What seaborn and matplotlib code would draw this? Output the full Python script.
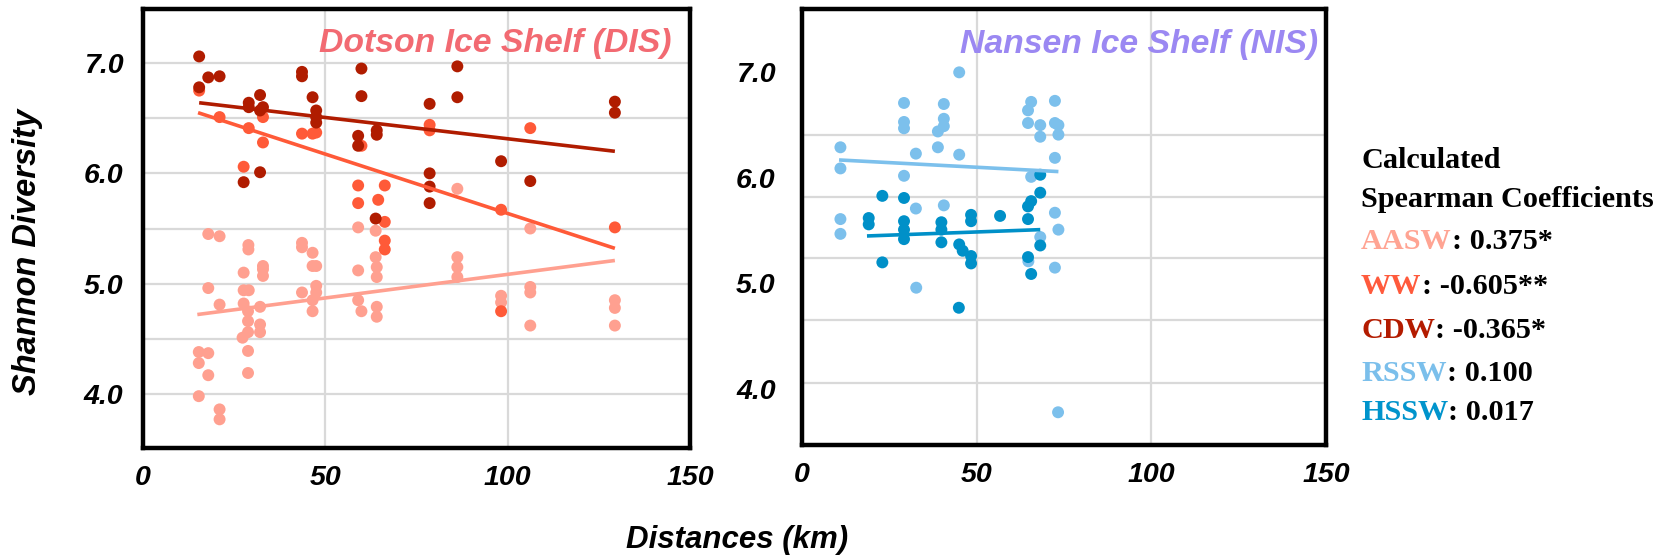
import numpy as np
import pandas as pd
import matplotlib
matplotlib.use("Agg")
import matplotlib.pyplot as plt
import seaborn as sns

# ---------------- data ----------------
# Dotson Ice Shelf (DIS)
aasw_x = [15.3, 17.9, 15.3, 17.9, 15.3, 21.0, 21.0, 17.9, 21.0, 17.9, 21.0,
          27.6, 27.6, 29.0, 27.6, 28.8, 28.8, 28.8, 27.3, 28.8, 28.8, 28.9, 28.9,
          32.9, 32.9, 32.9, 32.1, 32.1, 32.1,
          43.6, 43.6, 43.6, 46.5, 46.5, 47.5, 47.5, 47.5, 46.5, 46.5,
          59.0, 59.0, 59.0, 59.9,
          63.8, 63.8, 64.1, 64.1, 64.1, 64.1,
          86.2, 86.2, 86.2, 86.2,
          98.2, 98.2,
          106.2, 106.2, 106.2, 106.2,
          129.4, 129.4, 129.4]
aasw_y = [4.38, 4.37, 4.28, 4.17, 3.98, 3.86, 3.77, 5.45, 5.43, 4.96, 4.81,
          5.10, 4.94, 4.94, 4.82, 4.75, 4.66, 4.56, 4.51, 4.39, 4.19, 5.35, 5.31,
          5.16, 5.13, 5.07, 4.79, 4.63, 4.56,
          5.37, 5.33, 4.92, 5.28, 5.16, 5.16, 4.98, 4.92, 4.85, 4.75,
          5.51, 5.12, 4.85, 4.75,
          5.48, 5.24, 5.15, 5.06, 4.79, 4.70,
          5.86, 5.24, 5.15, 5.06,
          4.89, 4.83,
          5.50, 4.97, 4.92, 4.62,
          4.85, 4.78, 4.62]

ww_x = [15.4, 21.0, 29.0, 32.9, 32.9, 27.6, 43.6, 46.5, 47.5,
        59.9, 59.0, 59.0, 66.3, 64.5, 66.3, 66.3, 66.3,
        78.6, 78.6, 106.2, 98.2, 129.4, 98.2]
ww_y = [6.75, 6.51, 6.41, 6.51, 6.28, 6.06, 6.36, 6.36, 6.37,
        6.25, 5.89, 5.73, 5.89, 5.76, 5.56, 5.39, 5.31,
        6.44, 6.39, 6.41, 5.67, 5.51, 4.75]

cdw_x = [15.4, 15.4, 17.9, 21.0, 29.0, 29.0, 32.1, 32.9, 32.1,
         43.6, 43.6, 46.5, 47.5, 47.5, 47.5,
         59.9, 59.9, 59.0, 59.0, 64.1, 64.1, 63.8,
         27.6, 32.1,
         86.2, 86.2, 78.6, 78.6, 78.6, 78.6,
         98.2, 106.2, 129.4, 129.4]
cdw_y = [7.06, 6.78, 6.87, 6.88, 6.64, 6.60, 6.71, 6.60, 6.57,
         6.92, 6.88, 6.69, 6.57, 6.51, 6.46,
         6.95, 6.70, 6.34, 6.25, 6.39, 6.35, 5.59,
         5.92, 6.01,
         6.97, 6.69, 6.63, 6.00, 5.88, 5.73,
         6.11, 5.93, 6.65, 6.55]

# Nansen Ice Shelf (NIS)
rssw_x = [11.0, 11.0, 11.0, 11.0,
          29.2, 29.2, 29.2, 29.2, 32.6, 32.6, 32.7,
          40.6, 40.6, 40.6, 38.9, 38.9, 40.6,
          45.0, 45.0,
          65.6, 64.7, 64.7, 68.2, 68.2, 65.6, 68.2, 64.8,
          72.4, 72.4, 73.4, 73.4, 72.4, 72.4, 73.4, 72.4, 73.3]
rssw_y = [6.29, 6.09, 5.61, 5.47,
          6.71, 6.53, 6.47, 6.02, 6.23, 5.71, 4.96,
          6.70, 6.56, 6.49, 6.44, 6.29, 5.74,
          7.00, 6.22,
          6.72, 6.64, 6.52, 6.50, 6.39, 6.01, 5.44, 5.21,
          6.73, 6.52, 6.50, 6.41, 6.19, 5.67, 5.51, 5.15, 3.78]

hssw_x = [19.1, 19.1, 23.0, 23.0,
          29.2, 29.2, 29.2, 29.2,
          39.9, 39.9, 39.9,
          45.0, 46.0, 48.4, 48.4, 48.4, 48.4, 44.9,
          56.7,
          64.7, 65.6, 68.2, 68.2, 64.7, 68.2, 64.7, 65.6]
hssw_y = [5.62, 5.56, 5.83, 5.20,
          5.81, 5.59, 5.51, 5.42,
          5.58, 5.51, 5.39,
          5.37, 5.31, 5.26, 5.19, 5.65, 5.59, 4.77,
          5.64,
          5.73, 5.78, 5.86, 6.03, 5.61, 5.36, 5.25, 5.09]

# trend lines (start / end)
aasw_trend_x, aasw_trend_y = [14.9, 129.4], [4.72, 5.21]
ww_trend_x, ww_trend_y = [15.1, 129.4], [6.55, 5.32]
cdw_trend_x, cdw_trend_y = [15.4, 129.4], [6.64, 6.20]
rssw_trend_x, rssw_trend_y = [10.6, 73.4], [6.17, 6.06]
hssw_trend_x, hssw_trend_y = [18.6, 68.2], [5.45, 5.51]

x_ticks = [0, 50, 100, 150]
x_tick_labels = ["0", "50", "100", "150"]
y_ticks = [4, 5, 6, 7]
y_tick_labels = ["4.0", "5.0", "6.0", "7.0"]

legend_names = ["AASW", "WW", "CDW", "RSSW", "HSSW"]
legend_values = [": 0.375*", ": -0.605**", ": -0.365*", ": 0.100", ": 0.017"]

# ---------------- style ----------------
C_AASW = "#ffa090"
C_WW = "#ff5a38"
C_CDW = "#b01c00"
C_RSSW = "#7cc0ec"
C_HSSW = "#0090c8"
legend_colors = ["#ffa493", "#ff5a3c", "#b31b00", "#7bbfeb", "#0094cc"]

sns.set_theme(style="white")
plt.rcParams['font.family'] = ['Liberation Sans', 'DejaVu Sans']
plt.rcParams['text.color'] = 'black'
plt.rcParams['xtick.color'] = 'black'
plt.rcParams['ytick.color'] = 'black'
plt.rcParams['xtick.labelcolor'] = 'black'
plt.rcParams['ytick.labelcolor'] = 'black'

W, H = 1660, 557
fig = plt.figure(figsize=(W / 100, H / 100), dpi=100)
fig.patch.set_facecolor("white")

axL = fig.add_axes([143 / W, (H - 448) / H, 547 / W, 439 / H])
axR = fig.add_axes([802 / W, (H - 445) / H, 524 / W, 436 / H])

tick_font = dict(fontsize=20.5, fontweight="bold", fontstyle="italic", color="black")


def scatter_series(ax, xs, ys, color):
    df = pd.DataFrame({"x": xs, "y": ys})
    sns.scatterplot(data=df, x="x", y="y", color=color, s=74,
                    edgecolor="none", linewidth=0, ax=ax, zorder=3)


def trend(ax, xs, ys, color):
    df = pd.DataFrame({"x": xs, "y": ys})
    sns.lineplot(data=df, x="x", y="y", color=color, lw=2.6, ax=ax,
                 zorder=4, solid_capstyle="butt")


# Left panel
scatter_series(axL, aasw_x, aasw_y, C_AASW)
scatter_series(axL, ww_x, ww_y, C_WW)
scatter_series(axL, cdw_x, cdw_y, C_CDW)
trend(axL, aasw_trend_x, aasw_trend_y, C_AASW)
trend(axL, ww_trend_x, ww_trend_y, C_WW)
trend(axL, cdw_trend_x, cdw_trend_y, C_CDW)

# Right panel
scatter_series(axR, rssw_x, rssw_y, C_RSSW)
scatter_series(axR, hssw_x, hssw_y, C_HSSW)
trend(axR, rssw_trend_x, rssw_trend_y, C_RSSW)
trend(axR, hssw_trend_x, hssw_trend_y, C_HSSW)

axL.set_xlim(0, 150)
axL.set_ylim(3.51, 7.49)
axR.set_xlim(0, 149)
axR.set_ylim(3.47, 7.60)

for ax in (axL, axR):
    ax.set_xticks(x_ticks)
    ax.set_xticklabels(x_tick_labels, **tick_font)
    ax.set_yticks(y_ticks)
    ax.set_yticklabels(y_tick_labels, **tick_font)
    ax.set_xlabel("")
    ax.set_ylabel("")
    ax.set_axisbelow(True)
    for sp in ax.spines.values():
        sp.set_visible(True)
        sp.set_color("black")
        sp.set_linewidth(3.2)
    ax.tick_params(which="both", length=0)
    ax.tick_params(axis="x", pad=12)

axL.tick_params(axis="y", pad=14)
axR.tick_params(axis="y", pad=19)

# gridlines
grid_kw = dict(color="#d9d9d9", linewidth=1.6)
axL.set_yticks([4.5, 5.5, 6.5], minor=True)
axL.grid(True, which="both", **grid_kw)

axR.set_yticks([4.06, 4.65, 5.24, 5.82, 6.41, 7.0], minor=True)
axR.xaxis.grid(True, which="major", **grid_kw)
axR.yaxis.grid(False, which="major")
axR.yaxis.grid(True, which="minor", **grid_kw)

# panel titles
title_font = dict(fontsize=24.3, fontweight="bold", fontstyle="italic")
axL.text(0.967, 0.902, "Dotson Ice Shelf (DIS)", transform=axL.transAxes,
         ha="right", va="baseline", color="#f26a72", **title_font, zorder=5)
axR.text(0.985, 0.899, "Nansen Ice Shelf (NIS)", transform=axR.transAxes,
         ha="right", va="baseline", color="#9b88f2", **title_font, zorder=5)

# axis labels
fig.text(28 / W, 1 - 252 / H, "Shannon Diversity", rotation=90,
         ha="center", va="center", fontsize=23.5, fontweight="bold",
         fontstyle="italic", color="black")
fig.text(737 / W, 1 - 540 / H, "Distances (km)", ha="center", va="center",
         fontsize=22.5, fontweight="bold", fontstyle="italic", color="black")

# Spearman coefficients block
serif = ['Liberation Serif', 'DejaVu Serif']
lx = 1361 / W
fs_leg = 21.8
fig.text(lx, 1 - 168 / H, "Calculated", family=serif, fontsize=fs_leg,
         fontweight="bold", va="baseline", ha="left", color="black")
fig.text(lx, 1 - 207 / H, "Spearman Coefficients", family=serif, fontsize=fs_leg,
         fontweight="bold", va="baseline", ha="left", color="black")
baselines = [249, 294, 338, 381, 420]
for name, val, col, by in zip(legend_names, legend_values, legend_colors, baselines):
    t1 = fig.text(lx, 1 - by / H, name, family=serif, fontsize=fs_leg,
                  fontweight="bold", color=col, va="baseline", ha="left")
    plt.annotate(val, xy=(1, 0), xycoords=t1, ha="left", va="bottom",
                 family=serif, fontsize=fs_leg, fontweight="bold", color="black",
                 annotation_clip=False)

fig.savefig("out.png", dpi=100, facecolor="white")
